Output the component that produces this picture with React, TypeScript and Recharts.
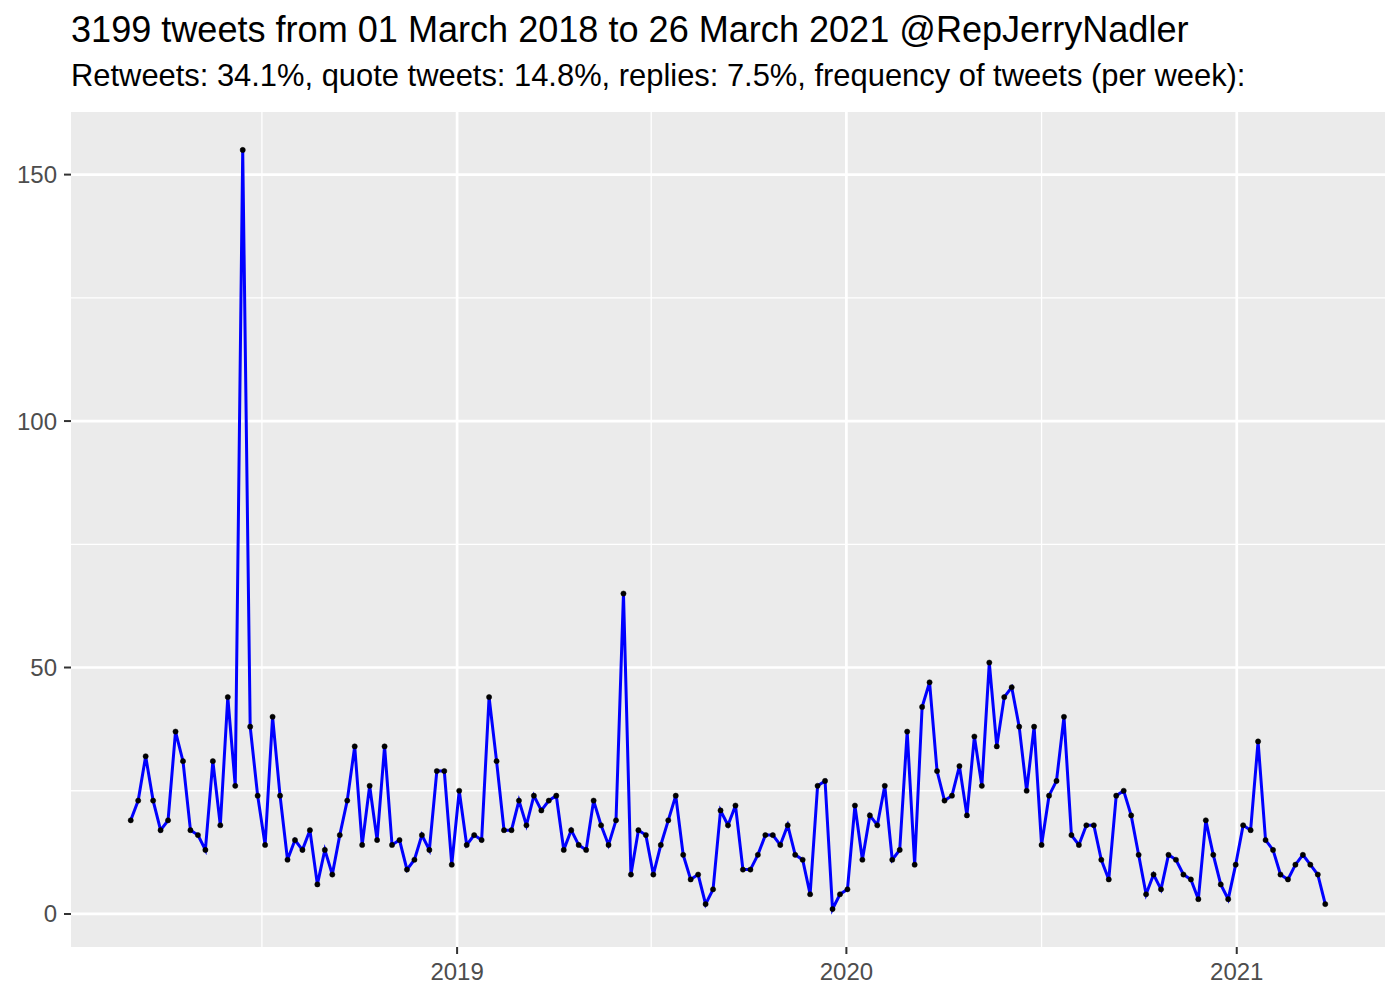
import { LineChart, Line, XAxis, YAxis, CartesianGrid } from "recharts";

// weekly bins starting on the first day of the range
const firstWeek = "2018-03-01";

// tweets per week (sums to 3199)
const weeklyTweets = [
  19, 23, 32, 23, 17, 19, 37, 31, 17, 16, 13, 31, 18, 44, 26, 155, 38, 24, 14, 40, 24, 11, 15, 13, 17,
  6, 13, 8, 16, 23, 34, 14, 26, 15, 34, 14, 15, 9, 11, 16, 13, 29, 29, 10, 25, 14, 16, 15, 44, 31, 17, 17,
  23, 18, 24, 21, 23, 24, 13, 17, 14, 13, 23, 18, 14, 19, 65, 8, 17, 16, 8, 14, 19, 24, 12, 7, 8, 2, 5,
  21, 18, 22, 9, 9, 12, 16, 16, 14, 18, 12, 11, 4, 26, 27, 1, 4, 5, 22, 11, 20, 18, 26, 11, 13, 37, 10,
  42, 47, 29, 23, 24, 30, 20, 36, 26, 51, 34, 44, 46, 38, 25, 38, 14, 24, 27, 40, 16, 14, 18, 18, 11, 7, 24,
  25, 20, 12, 4, 8, 5, 12, 11, 8, 7, 3, 19, 12, 6, 3, 10, 18, 17, 35, 15, 13, 8, 7, 10, 12, 10, 8, 2,
];

const yearTicks = ["2019-01-01", "2020-01-01", "2021-01-01"];
const yearMinor = ["2018-07-02", "2019-07-02", "2020-07-02"];
const countTicks = [0, 50, 100, 150];
const countMinor = [25, 75, 125];

const title = "3199 tweets from 01 March 2018 to 26 March 2021 @RepJerryNadler";
const subtitle =
  "Retweets: 34.1%, quote tweets: 14.8%, replies: 7.5%, frequency of tweets (per week):";

const DAY = 86400000;
const dayNum = (s: string) => Date.parse(s + "T00:00:00Z") / DAY;

const start = dayNum(firstWeek);
const data = weeklyTweets.map((n, i) => ({ day: start + 7 * i, n }));

// ggplot-style 5% expansion
const expand = (lo: number, hi: number): [number, number] => {
  const pad = (hi - lo) * 0.05;
  return [lo - pad, hi + pad];
};
const xDomain = expand(data[0].day, data[data.length - 1].day);
const yDomain = expand(Math.min(...weeklyTweets), Math.max(...weeklyTweets));

const font = "'Liberation Sans', Arial, Helvetica, sans-serif";
const tickStyle = { fill: "#4D4D4D", fontSize: 24, fontFamily: font };
const tickLine = { stroke: "#333333", strokeWidth: 2 };

const App = () => {
  return (
    <div
      style={{
        position: "absolute",
        left: 0,
        top: 0,
        width: 1400,
        height: 1000,
        background: "#fff",
        fontFamily: font,
      }}
    >
      <div style={{ position: "absolute", left: 71, top: 11.5, fontSize: 36.1, lineHeight: 1, whiteSpace: "nowrap" }}>
        {title}
      </div>
      <div style={{ position: "absolute", left: 71, top: 61, fontSize: 30.9, lineHeight: 1, whiteSpace: "nowrap" }}>
        {subtitle}
      </div>
      <LineChart
        width={1400}
        height={1000}
        data={data}
        margin={{ top: 112, right: 15, bottom: 0, left: 0 }}
      >
        <CartesianGrid
          fill="#EBEBEB"
          stroke="#FFFFFF"
          strokeWidth={1.3}
          horizontalValues={countMinor}
          verticalValues={yearMinor.map(dayNum)}
        />
        <CartesianGrid
          stroke="#FFFFFF"
          strokeWidth={2.7}
          horizontalValues={countTicks}
          verticalValues={yearTicks.map(dayNum)}
        />
        <XAxis
          dataKey="day"
          type="number"
          domain={xDomain}
          allowDataOverflow
          ticks={yearTicks.map(dayNum)}
          tickFormatter={(v: number) => String(new Date(v * DAY).getUTCFullYear())}
          height={53}
          axisLine={false}
          tickLine={tickLine}
          tickSize={7}
          tickMargin={9}
          tick={tickStyle}
        />
        <YAxis
          type="number"
          domain={yDomain}
          allowDataOverflow
          ticks={countTicks}
          width={71}
          axisLine={false}
          tickLine={tickLine}
          tickSize={7}
          tickMargin={7}
          tick={tickStyle}
        />
        <Line
          type="linear"
          dataKey="n"
          stroke="#0000FF"
          strokeWidth={3}
          dot={{ r: 2.6, fill: "#000", stroke: "#000", strokeWidth: 0.5 }}
          activeDot={false}
          isAnimationActive={false}
        />
      </LineChart>
    </div>
  );
};

export default App;
